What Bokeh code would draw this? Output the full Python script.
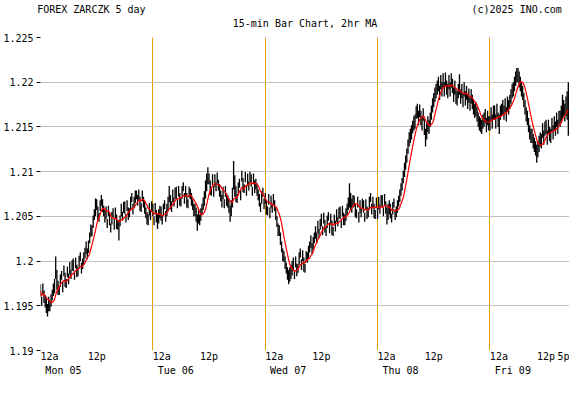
import numpy as np
import pandas as pd
from bokeh.plotting import figure
from bokeh.models import Range1d, FixedTicker, LinearAxis
from bokeh.embed import file_html
from bokeh.resources import INLINE

title_left = "FOREX ZARCZK 5 day"
title_mid = "15-min Bar Chart, 2hr MA"
title_right = "(c)2025 INO.com"

bar_minutes = 15
ma_bars = 8  # 2hr moving average of 15-min bars

# 15-min bars, Mon 05 12a .. Fri 09 5p (4 bars per hour, three hours per row)
bar_low = [
    1.1960, 1.1950, 1.1963, 1.1953,  1.1948, 1.1942, 1.1938, 1.1944,  1.1944, 1.1949, 1.1956, 1.1961,
    1.1964, 1.1980, 1.1968, 1.1962,  1.1962, 1.1971, 1.1979, 1.1965,  1.1983, 1.1971, 1.1970, 1.1982,
    1.1974, 1.1985, 1.1980, 1.1989,  1.1989, 1.1979, 1.1992, 1.1982,  1.1983, 1.1992, 1.2000, 1.1986,
    1.1991, 1.1996, 1.2003, 1.2008,  1.2002, 1.2009, 1.2020, 1.2027,  1.2028, 1.2037, 1.2046, 1.2050,
    1.2057, 1.2045, 1.2044, 1.2056,  1.2062, 1.2055, 1.2050, 1.2043,  1.2047, 1.2037, 1.2050, 1.2040,
    1.2032, 1.2041, 1.2049, 1.2035,  1.2048, 1.2036, 1.2035, 1.2023,  1.2039, 1.2050, 1.2045, 1.2054,
    1.2053, 1.2043, 1.2056, 1.2046,  1.2049, 1.2058, 1.2066, 1.2052,  1.2060, 1.2065, 1.2069, 1.2062,
    1.2068, 1.2056, 1.2055, 1.2067,  1.2060, 1.2053, 1.2048, 1.2041,  1.2040, 1.2051, 1.2046, 1.2055,
    1.2050, 1.2040, 1.2053, 1.2043,  1.2036, 1.2042, 1.2048, 1.2045,  1.2041, 1.2050, 1.2058, 1.2044,
    1.2050, 1.2056, 1.2066, 1.2058,  1.2055, 1.2066, 1.2061, 1.2070,  1.2069, 1.2059, 1.2072, 1.2062,
    1.2061, 1.2070, 1.2078, 1.2064,  1.2072, 1.2060, 1.2059, 1.2071,  1.2069, 1.2062, 1.2057, 1.2050,
    1.2050, 1.2044, 1.2034, 1.2042,  1.2040, 1.2045, 1.2052, 1.2057,  1.2062, 1.2070, 1.2078, 1.2086,
    1.2086, 1.2074, 1.2073, 1.2085,  1.2072, 1.2083, 1.2078, 1.2087,  1.2079, 1.2072, 1.2067, 1.2060,
    1.2069, 1.2059, 1.2072, 1.2062,  1.2060, 1.2054, 1.2044, 1.2050,  1.2060, 1.2080, 1.2072, 1.2066,
    1.2065, 1.2074, 1.2082, 1.2068,  1.2089, 1.2077, 1.2076, 1.2088,  1.2073, 1.2084, 1.2079, 1.2088,
    1.2083, 1.2073, 1.2086, 1.2076,  1.2080, 1.2073, 1.2068, 1.2061,  1.2055, 1.2064, 1.2072, 1.2058,
    1.2064, 1.2052, 1.2051, 1.2063,  1.2048, 1.2059, 1.2054, 1.2063,  1.2056, 1.2046, 1.2038, 1.2028,
    1.2028, 1.2018, 1.2010, 1.2000,  1.1999, 1.1991, 1.1986, 1.1979,  1.1974, 1.1977, 1.1980, 1.1984,
    1.1990, 1.1980, 1.1993, 1.1983,  1.1987, 1.1996, 1.2004, 1.1990,  1.2000, 1.1988, 1.1987, 1.1999,
    1.1998, 1.2003, 1.2010, 1.2015,  1.2008, 1.2013, 1.2020, 1.2025,  1.2020, 1.2031, 1.2026, 1.2035,
    1.2039, 1.2029, 1.2042, 1.2032,  1.2028, 1.2037, 1.2045, 1.2031,  1.2041, 1.2029, 1.2028, 1.2040,
    1.2033, 1.2044, 1.2039, 1.2048,  1.2047, 1.2037, 1.2050, 1.2040,  1.2040, 1.2045, 1.2052, 1.2057,
    1.2060, 1.2058, 1.2054, 1.2060,  1.2061, 1.2049, 1.2048, 1.2060,  1.2043, 1.2054, 1.2049, 1.2058,
    1.2054, 1.2044, 1.2057, 1.2047,  1.2049, 1.2058, 1.2066, 1.2052,  1.2060, 1.2048, 1.2047, 1.2059,
    1.2047, 1.2058, 1.2053, 1.2062,  1.2060, 1.2050, 1.2063, 1.2053,  1.2041, 1.2046, 1.2052, 1.2048,
    1.2043, 1.2052, 1.2060, 1.2046,  1.2049, 1.2054, 1.2061, 1.2066,  1.2073, 1.2079, 1.2087, 1.2094,
    1.2102, 1.2110, 1.2120, 1.2128,  1.2132, 1.2136, 1.2143, 1.2146,  1.2148, 1.2159, 1.2160, 1.2152,
    1.2161, 1.2152, 1.2146, 1.2157,  1.2141, 1.2128, 1.2136, 1.2144,  1.2142, 1.2150, 1.2158, 1.2166,
    1.2172, 1.2178, 1.2182, 1.2186,  1.2190, 1.2180, 1.2192, 1.2184,  1.2194, 1.2184, 1.2195, 1.2186,
    1.2182, 1.2192, 1.2184, 1.2194,  1.2188, 1.2178, 1.2186, 1.2176,  1.2174, 1.2182, 1.2186, 1.2176,
    1.2182, 1.2172, 1.2184, 1.2174,  1.2180, 1.2170, 1.2177, 1.2168,  1.2176, 1.2170, 1.2164, 1.2160,
    1.2162, 1.2156, 1.2150, 1.2146,  1.2144, 1.2142, 1.2148, 1.2150,  1.2154, 1.2144, 1.2152, 1.2146,
    1.2146, 1.2156, 1.2148, 1.2158,  1.2158, 1.2148, 1.2160, 1.2150,  1.2142, 1.2158, 1.2162, 1.2164,
    1.2158, 1.2166, 1.2156, 1.2168,  1.2164, 1.2170, 1.2176, 1.2182,  1.2184, 1.2190, 1.2196, 1.2200,
    1.2200, 1.2194, 1.2190, 1.2184,  1.2180, 1.2172, 1.2164, 1.2156,  1.2152, 1.2144, 1.2136, 1.2132,
    1.2132, 1.2126, 1.2122, 1.2118,  1.2110, 1.2116, 1.2122, 1.2128,  1.2126, 1.2138, 1.2130, 1.2140,
    1.2142, 1.2130, 1.2142, 1.2134,  1.2132, 1.2144, 1.2136, 1.2146,  1.2140, 1.2150, 1.2142, 1.2152,
    1.2150, 1.2156, 1.2160, 1.2162,  1.2156, 1.2162, 1.2158, 1.2140,
]
bar_high = [
    1.1974, 1.1960, 1.1975, 1.1967,  1.1962, 1.1958, 1.1952, 1.1960,  1.1956, 1.1963, 1.1968, 1.1975,
    1.1980, 1.2005, 1.1990, 1.1978,  1.1972, 1.1985, 1.1989, 1.1977,  1.1995, 1.1987, 1.1980, 1.1994,
    1.1986, 1.1999, 1.1990, 1.2001,  1.2003, 1.1989, 1.2004, 1.1996,  1.1993, 1.2006, 1.2010, 1.1998,
    1.2003, 1.2010, 1.2015, 1.2022,  1.2014, 1.2023, 1.2032, 1.2041,  1.2040, 1.2051, 1.2058, 1.2070,
    1.2069, 1.2061, 1.2054, 1.2068,  1.2074, 1.2069, 1.2062, 1.2057,  1.2061, 1.2047, 1.2062, 1.2054,
    1.2042, 1.2055, 1.2059, 1.2047,  1.2060, 1.2052, 1.2045, 1.2046,  1.2051, 1.2064, 1.2055, 1.2066,
    1.2067, 1.2053, 1.2068, 1.2060,  1.2059, 1.2072, 1.2076, 1.2064,  1.2072, 1.2079, 1.2079, 1.2074,
    1.2080, 1.2072, 1.2065, 1.2079,  1.2072, 1.2067, 1.2060, 1.2055,  1.2052, 1.2065, 1.2056, 1.2067,
    1.2064, 1.2050, 1.2065, 1.2057,  1.2052, 1.2058, 1.2062, 1.2061,  1.2051, 1.2064, 1.2068, 1.2056,
    1.2064, 1.2072, 1.2084, 1.2074,  1.2067, 1.2080, 1.2071, 1.2082,  1.2083, 1.2069, 1.2084, 1.2076,
    1.2071, 1.2084, 1.2088, 1.2076,  1.2084, 1.2076, 1.2069, 1.2083,  1.2081, 1.2076, 1.2069, 1.2064,
    1.2064, 1.2060, 1.2052, 1.2058,  1.2052, 1.2059, 1.2064, 1.2071,  1.2078, 1.2090, 1.2098, 1.2105,
    1.2098, 1.2090, 1.2083, 1.2097,  1.2084, 1.2097, 1.2088, 1.2099,  1.2091, 1.2086, 1.2079, 1.2074,
    1.2083, 1.2069, 1.2084, 1.2076,  1.2074, 1.2070, 1.2062, 1.2068,  1.2082, 1.2112, 1.2096, 1.2084,
    1.2075, 1.2088, 1.2092, 1.2080,  1.2101, 1.2093, 1.2086, 1.2100,  1.2085, 1.2098, 1.2089, 1.2100,
    1.2097, 1.2083, 1.2098, 1.2090,  1.2092, 1.2087, 1.2080, 1.2075,  1.2065, 1.2078, 1.2082, 1.2070,
    1.2076, 1.2068, 1.2061, 1.2075,  1.2060, 1.2073, 1.2064, 1.2075,  1.2068, 1.2060, 1.2050, 1.2042,
    1.2040, 1.2032, 1.2022, 1.2014,  1.2011, 1.2005, 1.1998, 1.1993,  1.1990, 1.1993, 1.1996, 1.2000,
    1.2004, 1.1990, 1.2005, 1.1997,  1.1997, 1.2010, 1.2014, 1.2002,  1.2012, 1.2004, 1.1997, 1.2011,
    1.2010, 1.2017, 1.2022, 1.2029,  1.2020, 1.2027, 1.2032, 1.2039,  1.2032, 1.2045, 1.2036, 1.2047,
    1.2053, 1.2039, 1.2054, 1.2046,  1.2038, 1.2051, 1.2055, 1.2043,  1.2053, 1.2045, 1.2038, 1.2052,
    1.2045, 1.2058, 1.2049, 1.2060,  1.2061, 1.2047, 1.2062, 1.2054,  1.2052, 1.2059, 1.2064, 1.2071,
    1.2087, 1.2076, 1.2070, 1.2074,  1.2073, 1.2065, 1.2058, 1.2072,  1.2055, 1.2068, 1.2059, 1.2070,
    1.2068, 1.2054, 1.2069, 1.2061,  1.2059, 1.2072, 1.2076, 1.2064,  1.2072, 1.2064, 1.2057, 1.2071,
    1.2059, 1.2072, 1.2063, 1.2074,  1.2074, 1.2060, 1.2075, 1.2067,  1.2060, 1.2064, 1.2068, 1.2064,
    1.2053, 1.2066, 1.2070, 1.2058,  1.2061, 1.2068, 1.2073, 1.2080,  1.2087, 1.2093, 1.2101, 1.2110,
    1.2118, 1.2126, 1.2136, 1.2144,  1.2148, 1.2152, 1.2157, 1.2162,  1.2164, 1.2173, 1.2176, 1.2168,
    1.2175, 1.2168, 1.2162, 1.2171,  1.2159, 1.2148, 1.2154, 1.2162,  1.2158, 1.2166, 1.2174, 1.2182,
    1.2188, 1.2194, 1.2198, 1.2202,  1.2206, 1.2196, 1.2208, 1.2200,  1.2210, 1.2200, 1.2211, 1.2202,
    1.2198, 1.2208, 1.2200, 1.2210,  1.2204, 1.2194, 1.2202, 1.2192,  1.2190, 1.2198, 1.2209, 1.2192,
    1.2198, 1.2188, 1.2200, 1.2190,  1.2196, 1.2186, 1.2193, 1.2184,  1.2192, 1.2186, 1.2180, 1.2176,
    1.2178, 1.2172, 1.2166, 1.2162,  1.2160, 1.2158, 1.2164, 1.2166,  1.2170, 1.2160, 1.2168, 1.2162,
    1.2162, 1.2172, 1.2164, 1.2174,  1.2174, 1.2164, 1.2176, 1.2166,  1.2164, 1.2174, 1.2176, 1.2180,
    1.2174, 1.2182, 1.2172, 1.2184,  1.2180, 1.2186, 1.2192, 1.2198,  1.2200, 1.2206, 1.2212, 1.2216,
    1.2216, 1.2212, 1.2206, 1.2200,  1.2196, 1.2188, 1.2180, 1.2172,  1.2168, 1.2160, 1.2152, 1.2148,
    1.2148, 1.2142, 1.2138, 1.2134,  1.2130, 1.2134, 1.2140, 1.2144,  1.2142, 1.2154, 1.2146, 1.2156,
    1.2158, 1.2146, 1.2158, 1.2150,  1.2148, 1.2160, 1.2152, 1.2162,  1.2156, 1.2166, 1.2158, 1.2168,
    1.2168, 1.2174, 1.2186, 1.2180,  1.2176, 1.2184, 1.2190, 1.2200,
]

y_ticks = [1.19, 1.195, 1.2, 1.205, 1.21, 1.215, 1.22, 1.225]
y_tick_labels = ["1.19", "1.195", "1.2", "1.205", "1.21", "1.215", "1.22", "1.225"]

midnight_hours = [0, 24, 48, 72, 96]
noon_hours = [12, 36, 60, 84, 108]
end_hour = 113
end_label = "5p"
day_labels = ["Mon 05", "Tue 06", "Wed 07", "Thu 08", "Fri 09"]

FONT = "DejaVu Sans Mono"
FS = "10px"
ORANGE = "#e8a000"

low = np.array(bar_low)
high = np.array(bar_high)
t = np.arange(len(low)) * bar_minutes / 60.0
mid = (low + high) / 2.0
ma = pd.Series(mid).rolling(ma_bars, min_periods=1).mean().values

W, H = 569, 378
BL, BR, BT, BB = 37, 0, 36, 25
FW = W - BL - BR
PX_PER_H = FW / end_hour
CH = 6.02  # monospace character width at 10px


def hours(px):
    return px / PX_PER_H


p = figure(width=W, height=H, output_backend="svg", toolbar_location=None,
           x_range=Range1d(0, end_hour), y_range=Range1d(y_ticks[0], y_ticks[-1]),
           min_border_left=BL, min_border_right=BR, min_border_top=BT, min_border_bottom=BB,
           background_fill_color="white", border_fill_color="white")
p.outline_line_color = None
p.below[0].visible = False

p.ygrid.ticker = FixedTicker(ticks=y_ticks)
p.ygrid.grid_line_color = "#c0c0c0"
p.xgrid.ticker = FixedTicker(ticks=midnight_hours[1:])
p.xgrid.grid_line_color = ORANGE

ya = p.yaxis[0]
ya.ticker = FixedTicker(ticks=y_ticks)
ya.major_label_overrides = {v: s for v, s in zip(y_ticks, y_tick_labels)}
ya.axis_line_color = None
ya.major_tick_in = 0
ya.major_tick_out = 4
ya.major_tick_line_color = "black"
ya.minor_tick_line_color = None
ya.major_label_standoff = 3
ya.major_label_text_font = FONT
ya.major_label_text_font_size = FS
ya.major_label_text_color = "black"


def text_axis(ticks, labels, standoff):
    return LinearAxis(ticker=FixedTicker(ticks=ticks),
                      major_label_overrides={v: s for v, s in zip(ticks, labels)},
                      axis_line_color=None, major_tick_line_color=None, minor_tick_line_color=None,
                      major_tick_in=0, major_tick_out=0, major_label_standoff=standoff,
                      major_label_text_font=FONT, major_label_text_font_size=FS,
                      major_label_text_color="black")


# bottom row 1: "12a" starts at midnight, "12p"/"5p" centred on their hour
row1_ticks = [m + hours(1.5 * CH) for m in midnight_hours] + noon_hours + [end_hour]
row1_labels = ["12a"] * len(midnight_hours) + ["12p"] * len(noon_hours) + [end_label]
p.add_layout(text_axis(row1_ticks, row1_labels, 0), "below")
# bottom row 2: day names, starting just after midnight
row2_ticks = [m + hours(5 + len(d) * CH / 2) for m, d in zip(midnight_hours, day_labels)]
p.add_layout(text_axis(row2_ticks, day_labels, 0), "below")

# titles above the frame
sub_tick = [hours(266)]
p.add_layout(text_axis(sub_tick, [title_mid], 9), "above")
top_ticks = [hours(-3 + len(title_left) * CH / 2), hours(FW - 8 - len(title_right) * CH / 2)]
p.add_layout(text_axis(top_ticks, [title_left, title_right], 0), "above")

p.segment(x0=t, y0=low, x1=t, y1=high, line_color="black", line_width=1.3)
p.line(t, ma, line_color="#ff0000", line_width=1.2)

open("out.html", "w").write(file_html(p, INLINE))
